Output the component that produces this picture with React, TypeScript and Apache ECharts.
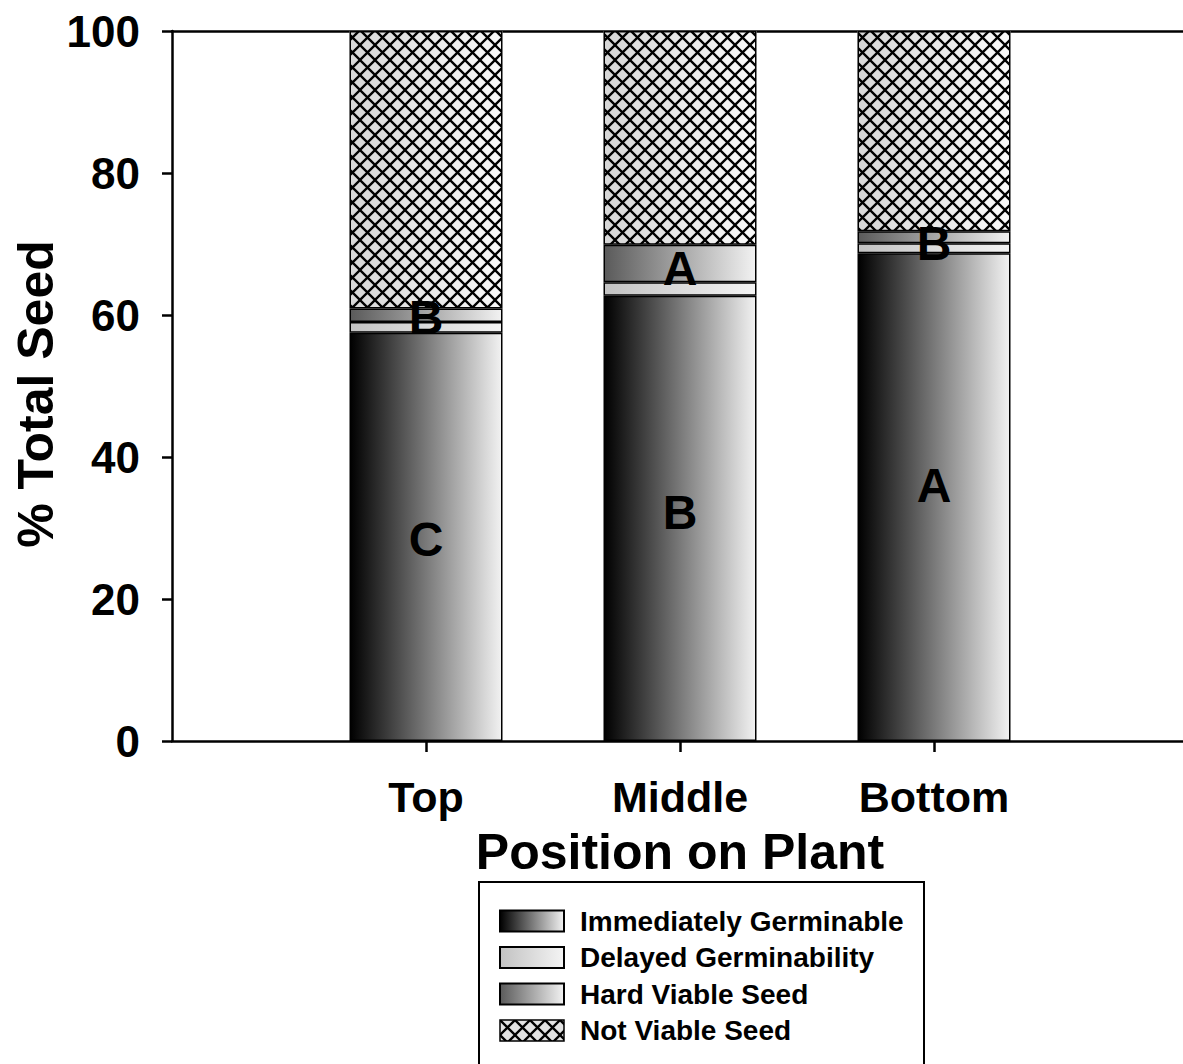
import React, { useEffect, useRef } from 'react';
import * as echarts from 'echarts';

// ---- data ----
const categories = ['Top', 'Middle', 'Bottom'];
const immediatelyGerminable = [57.5, 62.7, 68.7];
const delayedGerminability = [1.5, 1.9, 1.4];
const hardViableSeed = [1.9, 5.3, 1.7];
const notViableSeed = [39.1, 30.1, 28.2];
const lowerLetters = ['C', 'B', 'A'];
const upperLetters = ['B', 'A', 'B'];
const seriesNames = ['Immediately Germinable', 'Delayed Germinability', 'Hard Viable Seed', 'Not Viable Seed'];
const yAxisTitle = '% Total Seed';
const xAxisTitle = 'Position on Plant';

const FONT = '"Liberation Sans", Arial, Helvetica, sans-serif';

function hgrad(c0: string, c1: string) {
  return new echarts.graphic.LinearGradient(0, 0, 1, 0, [
    { offset: 0, color: c0 },
    { offset: 1, color: c1 },
  ]);
}

function hatchTile(bg: string | null) {
  const size = 15;
  const c = document.createElement('canvas');
  c.width = size;
  c.height = size;
  const ctx = c.getContext('2d')!;
  if (bg) {
    ctx.fillStyle = bg;
    ctx.fillRect(0, 0, size, size);
  }
  ctx.strokeStyle = '#000';
  ctx.lineWidth = 2.3;
  for (const dx of [-size, 0, size]) {
    ctx.beginPath();
    ctx.moveTo(dx, 0);
    ctx.lineTo(dx + size, size);
    ctx.moveTo(dx + size, 0);
    ctx.lineTo(dx, size);
    ctx.stroke();
  }
  return { image: c, repeat: 'repeat', imageWidth: size, imageHeight: size };
}

export default function App() {
  const ref = useRef<HTMLDivElement>(null);

  useEffect(() => {
    document.body.style.margin = '0';
    document.body.style.overflow = 'hidden';
    if (!ref.current) return;
    const chart = echarts.init(ref.current, null, { renderer: 'svg' });

    // empty slots at both ends of the category axis leave the margins of the plot
    const axisCats = ['', ...categories, ''];
    const pad = (vals: any[]) => [null, ...vals, null];
    const lowerSums = categories.map(
      (_, i) => immediatelyGerminable[i] + delayedGerminability[i] + hardViableSeed[i]
    );
    const border = { borderColor: '#000', borderWidth: 1.5 };
    const barW = 153;
    const lowerNudge = [3, -6, -12];
    const upperNudge = [2, 5, 6];
    const letterStyle = { fontSize: 48, fontWeight: 'bold', color: '#000', fontFamily: FONT };
    const axisLine = { show: true, onZero: false, lineStyle: { color: '#000', width: 2.5 } };
    const inner = (i: number) => i >= 1 && i <= categories.length;

    const option: any = {
      animation: false,
      backgroundColor: '#fff',
      textStyle: { fontFamily: FONT },
      grid: { left: 172, top: 31, width: 1016, height: 710, containLabel: false, outerBoundsMode: 'none' },
      xAxis: [
        {
          type: 'category',
          data: axisCats,
          boundaryGap: false,
          position: 'bottom',
          axisLine,
          axisTick: { show: true, length: 11, interval: (i: number) => inner(i), lineStyle: { color: '#000', width: 2.5 } },
          axisLabel: {
            interval: 0,
            fontSize: 43,
            fontWeight: 'bold',
            color: '#000',
            fontFamily: FONT,
            margin: 34,
          },
          splitLine: { show: false },
          name: xAxisTitle,
          nameLocation: 'middle',
          nameGap: 86,
          nameTextStyle: { fontSize: 50, fontWeight: 'bold', color: '#000', fontFamily: FONT },
        },
        {
          type: 'category',
          data: axisCats,
          boundaryGap: false,
          position: 'top',
          axisLine,
          axisTick: { show: false },
          axisLabel: { show: false },
          splitLine: { show: false },
        },
      ],
      yAxis: {
        type: 'value',
        min: 0,
        max: 100,
        interval: 20,
        axisLine,
        axisTick: { show: true, length: 10, lineStyle: { color: '#000', width: 2.5 } },
        axisLabel: { fontSize: 44, fontWeight: 'bold', color: '#000', fontFamily: FONT, margin: 32 },
        splitLine: { show: false },
      },
      legend: {
        data: [
          seriesNames[0],
          seriesNames[1],
          seriesNames[2],
          { name: seriesNames[3], itemStyle: { color: hatchTile('#e2e2e2'), borderColor: '#000', borderWidth: 1.5 } },
        ],
        orient: 'vertical',
        left: 499,
        top: 907,
        padding: 0,
        itemWidth: 64,
        itemHeight: 21,
        itemGap: 8.5,
        icon: 'rect',
        selectedMode: false,
        textStyle: { fontSize: 28, fontWeight: 'bold', color: '#000', fontFamily: FONT, padding: [0, 0, 0, 11] },
      },
      graphic: [
        {
          type: 'text',
          x: 36,
          y: 394,
          rotation: Math.PI / 2,
          style: {
            text: yAxisTitle,
            align: 'center',
            verticalAlign: 'middle',
            font: `bold 50px ${FONT}`,
            fill: '#000',
          },
        },
        {
          type: 'rect',
          shape: { x: 479, y: 882, width: 445, height: 220 },
          style: { fill: 'none', stroke: '#000', lineWidth: 2 },
          silent: true,
        },
      ],
      series: [
        {
          name: 'nv-base',
          type: 'bar',
          stack: 'under',
          barWidth: barW,
          barGap: '-100%',
          silent: true,
          data: pad(lowerSums),
          itemStyle: { color: 'rgba(0,0,0,0)' },
        },
        {
          name: 'nv-under',
          type: 'bar',
          stack: 'under',
          barWidth: barW,
          barGap: '-100%',
          silent: true,
          data: pad(notViableSeed),
          itemStyle: { color: hgrad('#d6d6d6', '#fafafa') },
        },
        {
          name: seriesNames[0],
          type: 'bar',
          stack: 'main',
          barWidth: barW,
          barGap: '-100%',
          z: 3,
          data: pad(
            immediatelyGerminable.map((v, i) => ({
              value: v,
              label: { show: true, position: 'inside', formatter: lowerLetters[i], offset: [0, lowerNudge[i]], ...letterStyle },
            }))
          ),
          itemStyle: { color: hgrad('#000000', '#f2f2f2'), ...border },
        },
        {
          name: seriesNames[1],
          type: 'bar',
          stack: 'main',
          barWidth: barW,
          barGap: '-100%',
          data: pad(delayedGerminability),
          itemStyle: { color: hgrad('#c2c2c2', '#f4f4f4'), ...border },
        },
        {
          name: seriesNames[2],
          type: 'bar',
          stack: 'main',
          barWidth: barW,
          barGap: '-100%',
          z: 3,
          data: pad(
            hardViableSeed.map((v, i) => ({
              value: v,
              label: { show: true, position: 'inside', formatter: upperLetters[i], offset: [0, upperNudge[i]], ...letterStyle },
            }))
          ),
          itemStyle: { color: hgrad('#5a5a5a', '#f2f2f2'), ...border },
        },
        {
          name: seriesNames[3],
          type: 'bar',
          stack: 'main',
          barWidth: barW,
          barGap: '-100%',
          data: pad(notViableSeed),
          itemStyle: { color: hatchTile(null), ...border },
        },
      ],
    };

    chart.setOption(option);
    return () => chart.dispose();
  }, []);

  return <div ref={ref} style={{ width: 1183, height: 1064 }} />;
}
